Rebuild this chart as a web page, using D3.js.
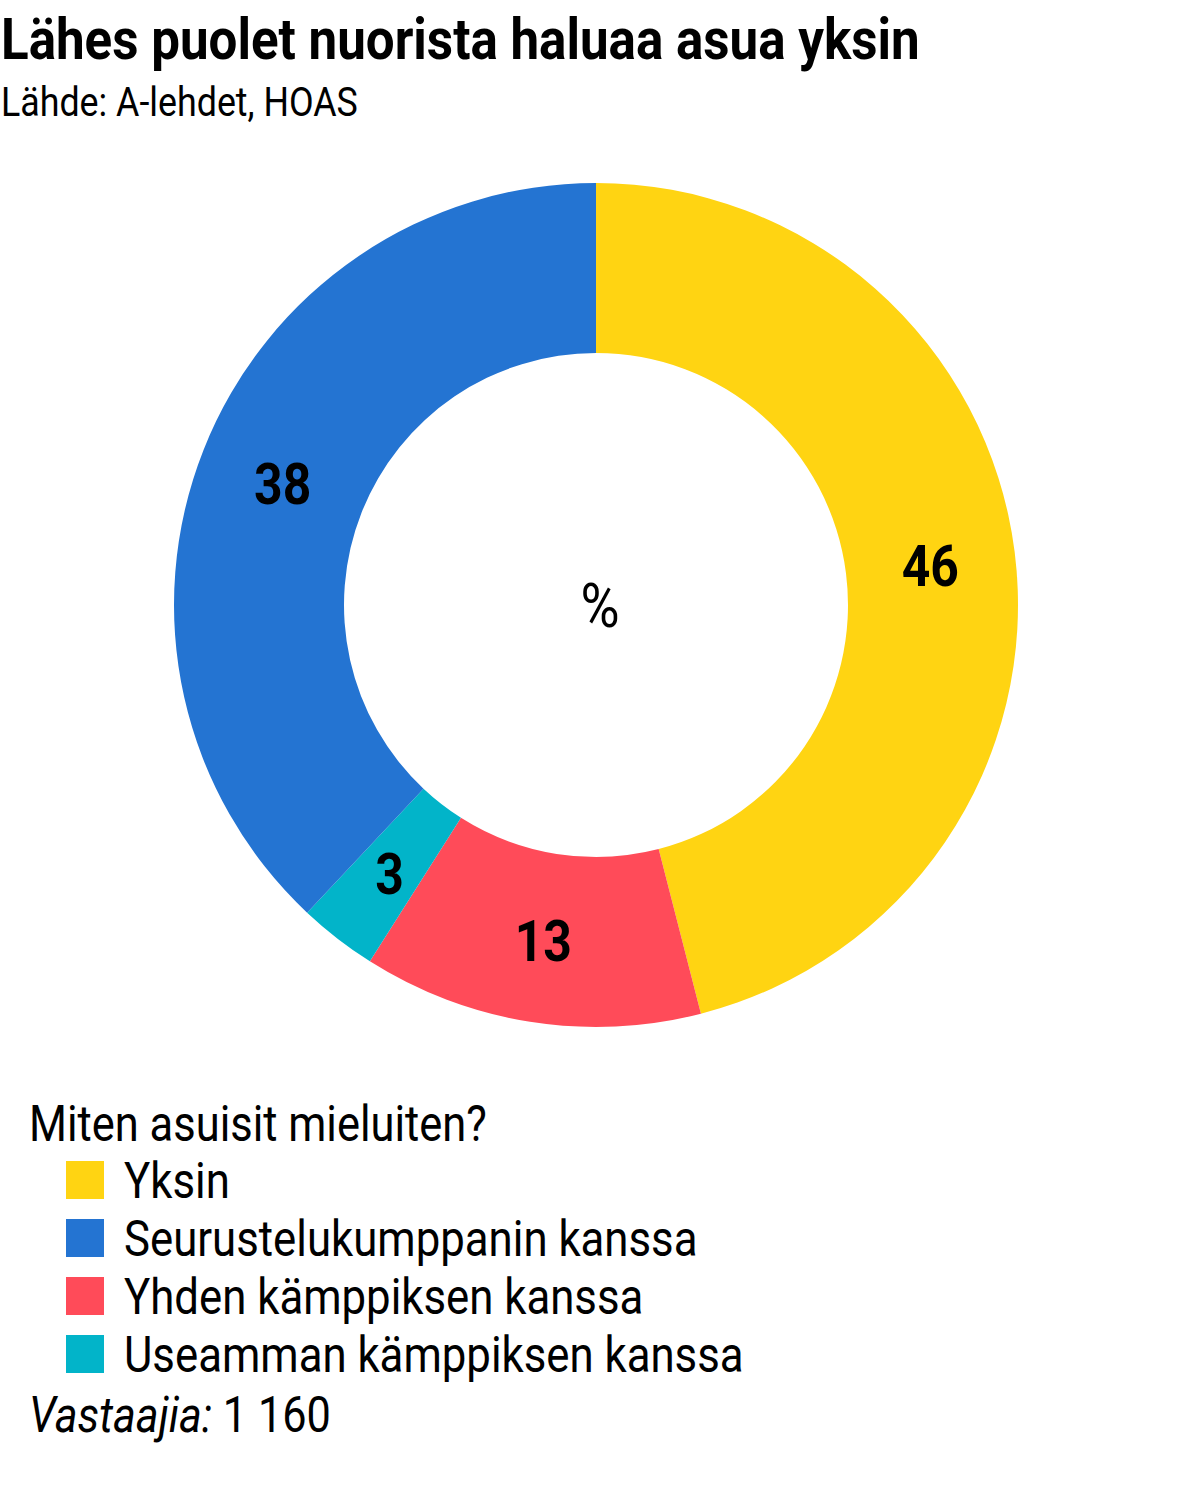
<!DOCTYPE html>
<html>
<head>
<meta charset="utf-8">
<script src="https://cdn.jsdelivr.net/npm/d3@7"></script>
<style>
  body { margin: 0; background: #fff; }
  svg { display: block; font-family: Roboto, sans-serif; }
</style>
</head>
<body>
<svg id="chart" width="1199" height="1490"></svg>
<script>
// data, order clockwise from 12 o'clock
var categories = ["Yksin", "Yhden kämppiksen kanssa", "Useamman kämppiksen kanssa", "Seurustelukumppanin kanssa"];
var values = [46, 13, 3, 38];
var colors = ["#ffd412", "#ff4b59", "#02b4c9", "#2474d2"];
// legend shows them in a different order
var legendOrder = ["Yksin", "Seurustelukumppanin kanssa", "Yhden kämppiksen kanssa", "Useamman kämppiksen kanssa"];

var title = "Lähes puolet nuorista haluaa asua yksin";
var source = "Lähde: A-lehdet, HOAS";
var legendTitle = "Miten asuisit mieluiten?";
var respondents = "1 160";

var svg = d3.select("#chart");

var color = d3.scaleOrdinal().domain(categories).range(colors);

// roboto condensed isn't there, so squeeze plain roboto to the width it should have
function squeeze(sel, x, y, targetW) {
  var w = sel.node().getComputedTextLength();
  var k = targetW ? targetW / w : 0.86;
  sel.attr("transform", "translate(" + x + "," + y + ") scale(" + k + ",1)");
  return sel;
}

var t = svg.append("text").attr("font-size", 57).attr("font-weight", 700).text(title);
squeeze(t, 1, 59, 919);
var s = svg.append("text").attr("font-size", 40).text(source);
squeeze(s, 1, 116, 357);

// donut
var cx = 596, cy = 605, outerR = 422, innerR = 252;
var pie = d3.pie().sort(null).value(function(d, i) { return values[i]; });
var arc = d3.arc().innerRadius(innerR).outerRadius(outerR);
var arcs = pie(categories);

var g = svg.append("g").attr("transform", "translate(" + cx + "," + cy + ")");

g.selectAll("path")
  .data(arcs)
  .enter()
  .append("path")
  .attr("d", arc)
  .attr("fill", function(d) { return color(d.data); });

g.selectAll("text.lbl")
  .data(arcs)
  .enter()
  .append("text")
  .attr("class", "lbl")
  .attr("font-size", 58)
  .attr("font-weight", 700)
  .attr("text-anchor", "middle")
  .attr("dy", "0.36em")
  .text(function(d) { return d.value; })
  .each(function(d) {
    var c = arc.centroid(d);
    d3.select(this).attr("transform", "translate(" + c[0] + "," + (c[1] + 2) + ") scale(0.86,1)");
  });

g.append("text")
  .attr("font-size", 62)
  .attr("text-anchor", "middle")
  .attr("transform", "translate(4,22) scale(0.86,1)")
  .text("%");

// legend
var lt = svg.append("text").attr("font-size", 50).text(legendTitle);
squeeze(lt, 29, 1141, 458);

var rowH = 58, firstRow = 1180;
var items = svg.selectAll("g.item")
  .data(legendOrder)
  .enter()
  .append("g")
  .attr("class", "item")
  .attr("transform", function(d, i) { return "translate(0," + (firstRow + i * rowH) + ")"; });

items.append("rect")
  .attr("x", 66)
  .attr("y", -19)
  .attr("width", 38)
  .attr("height", 38)
  .attr("fill", function(d) { return color(d); });

items.append("text")
  .attr("font-size", 50)
  .text(function(d) { return d; })
  .attr("transform", "translate(124,18) scale(0.875,1)");

var v = svg.append("text").attr("font-size", 50);
v.append("tspan").attr("font-style", "italic").text("Vastaajia:");
v.append("tspan").text(" " + respondents);
squeeze(v, 29, 1432, 302);
</script>
</body>
</html>
